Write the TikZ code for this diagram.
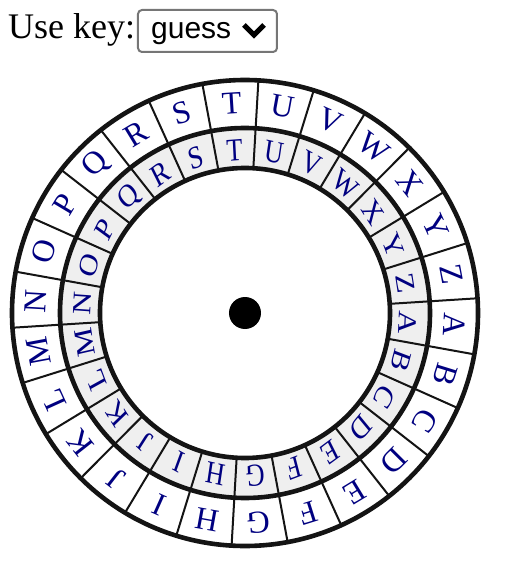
\documentclass[tikz,border=0pt]{standalone}
\usepackage{fontspec}
\setmainfont{Liberation Serif}
\newfontfamily\uisans{Liberation Sans}
\usepackage{xcolor}
\usepackage{tikz}
\usetikzlibrary{arrows.meta, positioning, calc}
\definecolor{keynavy}{RGB}{0, 0, 128}
\definecolor{ringgray}{RGB}{239, 239, 239}
\definecolor{boxgray}{RGB}{118, 118, 118}

\begin{document}
\begin{tikzpicture}[
  x=1pt, y=1pt,
  label/.style={font=\fontsize{36}{36}\selectfont, inner sep=0pt},
  select/.style={draw=boxgray, line width=2pt, rounded corners=4pt},
  choice/.style={font=\uisans\fontsize{30}{30}\selectfont, inner sep=0pt},
  outerletter/.style={font=\fontsize{32}{32}\selectfont, text=keynavy, inner sep=0pt},
  innerletter/.style={outerletter, xscale=0.82},
  rim/.style={line width=4.6pt, color=black!92},
  divider/.style={line width=2pt, color=black!92}
]
  \useasboundingbox (-245,-271) rectangle (281,313);

  % key chooser
  \node[label, anchor=base west] (usekey) at (-237, 274) {Use key:};
  \draw[select] (-107, 303) rectangle (32, 261);
  \node[choice, anchor=base west] (guess) at (-94, 274) {guess};
  \draw[line width=5pt] (-1, 288) -- (9, 278) -- (19, 288);

  % shaded inner ring
  \fill[ringgray, even odd rule] (0,0) circle (185) (0,0) circle (145);

  % letters
  \foreach \l [count=\i from 0] in {A,B,C,D,E,F,G,H,I,J,K,L,M,N,O,P,Q,R,S,T,U,V,W,X,Y,Z} {
    \pgfmathsetmacro\a{-3.3-\i*360/26}
    \node[outerletter, rotate=\a-90] (outer\l) at (\a:210) {\l};
    \node[innerletter, rotate=\a-90] (inner\l) at (\a:163) {\l};
  }

  % segment borders
  \foreach \i in {0,...,25} {
    \pgfmathsetmacro\b{-3.3+180/26-\i*360/26}
    \draw[divider] (\b:145) -- (\b:233);
  }

  \draw[rim] (0,0) circle (233);
  \draw[rim] (0,0) circle (185);
  \draw[rim] (0,0) circle (145);

  \fill (0,0) circle (16);

\end{tikzpicture}
\end{document}
